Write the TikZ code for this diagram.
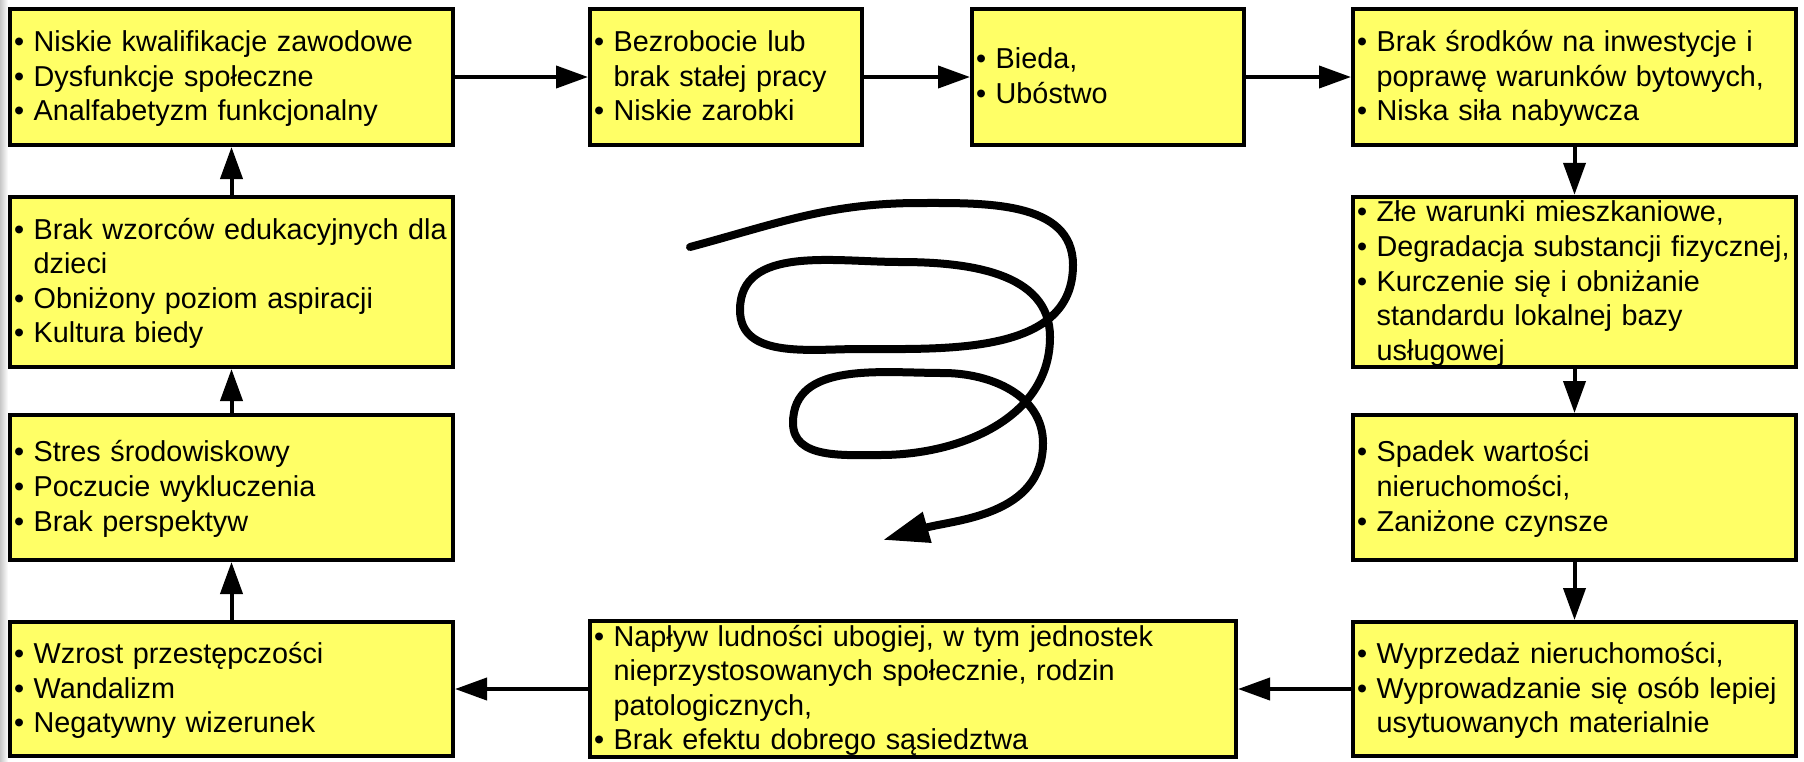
\documentclass[tikz,border=0pt]{standalone}
\usepackage{fontspec}
\setmainfont{Liberation Sans}
\usepackage{tikz}
\usetikzlibrary{arrows.meta}
\definecolor{boxyellow}{RGB}{255,255,102}
\newcommand{\lnstrut}{\rule[-3.5pt]{0pt}{16pt}}
\newcommand{\itm}[1]{\mbox{\lnstrut\textbullet\ #1}}
\newcommand{\more}[1]{\mbox{\lnstrut\phantom{\textbullet\ }#1}}

\begin{document}
\begin{tikzpicture}[
    x=0.5pt, y=-0.5pt,
    box/.style={rectangle, draw, line width=2pt, fill=boxyellow, align=left, inner xsep=2pt, inner ysep=0pt, font=\fontsize{14.4pt}{17.3pt}\selectfont},
    wide/.style={text width=217.5pt},
    narrow/.style={text width=132pt},
    arrow/.style={-{Triangle[length=16pt,width=11pt]}, line width=2pt},
    spiral/.style={line width=4pt, line cap=round, -{Triangle[length=23pt,width=15pt]}}
]
\useasboundingbox (0,0) rectangle (1804,761);
\shade[left color=black!22, right color=white] (0,0) rectangle (8,761);

% top row
\node[box, wide, minimum height=68pt] (niskie) at (231.5,77) {\itm{Niskie kwalifikacje zawodowe}\\ \itm{Dysfunkcje społeczne}\\ \itm{Analfabetyzm funkcjonalny}};
\node[box, narrow, minimum height=68pt] (bezrob) at (726,77) {\itm{Bezrobocie lub}\\ \more{brak stałej pracy}\\ \itm{Niskie zarobki}};
\node[box, narrow, minimum height=68pt] (bieda) at (1108,77) {\itm{Bieda,}\\ \itm{Ubóstwo}};
\node[box, wide, minimum height=68pt] (srodki) at (1574.5,77) {\itm{Brak środków na inwestycje i}\\ \more{poprawę warunków bytowych,}\\ \itm{Niska siła nabywcza}};

% right column
\node[box, wide, minimum height=85pt] (warunki) at (1574.5,282) {\itm{Złe warunki mieszkaniowe,}\\ \itm{Degradacja substancji fizycznej,}\\ \itm{Kurczenie się i obniżanie}\\ \more{standardu lokalnej bazy}\\ \more{usługowej}};
\node[box, wide, minimum height=72.5pt] (spadek) at (1574.5,487.5) {\itm{Spadek wartości}\\ \more{nieruchomości,}\\ \itm{Zaniżone czynsze}};
\node[box, wide, minimum height=67pt] (wyprzedaz) at (1574.5,689) {\itm{Wyprzedaż nieruchomości,}\\ \itm{Wyprowadzanie się osób lepiej}\\ \more{usytuowanych materialnie}};

% bottom row
\node[box, text width=319pt, minimum height=67pt] (naplyw) at (913,689) {\itm{Napływ ludności ubogiej, w tym jednostek}\\ \more{nieprzystosowanych społecznie, rodzin}\\ \more{patologicznych,}\\ \itm{Brak efektu dobrego sąsiedztwa}};
\node[box, wide, minimum height=67pt] (wzrost) at (231.5,689) {\itm{Wzrost przestępczości}\\ \itm{Wandalizm}\\ \itm{Negatywny wizerunek}};

% left column
\node[box, wide, minimum height=72.5pt] (stres) at (231.5,487.5) {\itm{Stres środowiskowy}\\ \itm{Poczucie wykluczenia}\\ \itm{Brak perspektyw}};
\node[box, wide, minimum height=85pt] (wzorce) at (231.5,282) {\itm{Brak wzorców edukacyjnych dla}\\ \more{dzieci}\\ \itm{Obniżony poziom aspiracji}\\ \itm{Kultura biedy}};

\draw[arrow] (niskie) -- (bezrob);
\draw[arrow] (bezrob) -- (bieda);
\draw[arrow] (bieda) -- (srodki);
\draw[arrow] (srodki) -- (warunki);
\draw[arrow] (warunki) -- (spadek);
\draw[arrow] (spadek) -- (wyprzedaz);
\draw[arrow] (wyprzedaz) -- (naplyw);
\draw[arrow] (naplyw) -- (wzrost);
\draw[arrow] (wzrost) -- (stres);
\draw[arrow] (stres) -- (wzorce);
\draw[arrow] (wzorce) -- (niskie);

% spiral in the middle
\draw[spiral] (690,247) to[out=15,in=180] (920,203) to[out=0,in=90] (1073,265)
  to[out=-90,in=0] (860,349) to[out=180,in=-90] (740,310) to[out=90,in=180] (900,262)
  to[out=0,in=90] (1050,337) to[out=-90,in=0] (880,455) to[out=180,in=-90] (793,423)
  to[out=90,in=180] (943,373) to[out=0,in=90] (1043,443) to[out=-90,in=16] (883,540);
\end{tikzpicture}
\end{document}
